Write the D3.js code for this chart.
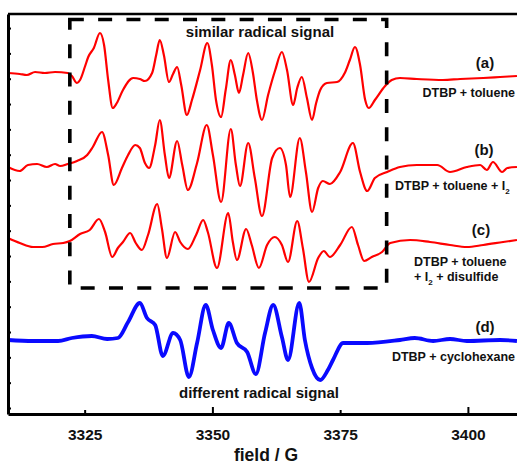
<!DOCTYPE html>
<html>
<head>
<meta charset="utf-8">
<script src="https://cdn.jsdelivr.net/npm/d3@7"></script>
<style>
body { margin: 0; background: #fff; }
text { font-family: "Liberation Sans", Arial, sans-serif; font-weight: bold; fill: #111; }
</style>
</head>
<body>
<svg width="517" height="466"></svg>
<script>
// spectrum (a) DTBP + toluene
var fieldA = [3310.0,3312.3,3313.7,3315.3,3317.2,3319.2,3321.7,3322.5,3323.5,3324.1,3325.1,3325.7,3326.8,3328.0,3328.8,3329.6,3330.5,3331.3,3332.5,3334.5,3335.8,3336.8,3338.2,3339.0,3339.7,3340.5,3341.5,3342.3,3343.1,3343.9,3345.0,3346.0,3347.6,3349.0,3349.9,3350.7,3351.7,3352.6,3353.6,3354.4,3355.2,3356.0,3357.0,3357.9,3358.7,3359.7,3360.9,3362.3,3363.6,3364.6,3365.8,3366.6,3367.5,3368.5,3369.5,3370.3,3371.1,3372.4,3374.4,3375.9,3376.9,3377.9,3378.9,3379.9,3380.6,3381.8,3383.8,3385.1,3386.7,3390.0,3395.1,3398.5,3403.0,3406.3,3409.6]
var intA = [0,-1,-2,1,0,1,0,-3,-10,-7,7,16,25,40,28,-7,-35,-30,-17,-5,-6,-8,0,18,33,18,-9,-1,6,-12,-42,-27,3,30,8,-27,-44,-17,13,-2,-20,-2,20,1,-27,-47,-22,3,21,3,-32,-15,-4,-25,-47,-30,-17,-10,-9,0,13,26,8,-27,-35,-27,-13,-7,-5,-6,-7,-6,-5,-4,-3]

// spectrum (b) DTBP + toluene + I2
var fieldB = [3310.0,3312.3,3313.9,3315.7,3317.6,3319.2,3320.2,3321.7,3323.5,3325.5,3326.6,3328.4,3329.6,3330.7,3332.3,3333.5,3334.9,3335.8,3336.8,3337.6,3338.8,3339.7,3340.7,3341.5,3343.1,3344.1,3345.2,3347.0,3348.9,3350.1,3351.7,3353.6,3354.6,3355.4,3357.0,3358.3,3359.7,3361.7,3363.2,3364.4,3365.2,3367.1,3368.3,3369.5,3370.7,3371.6,3373.0,3375.0,3377.5,3378.9,3380.3,3381.8,3384.2,3386.7,3390.0,3394.0,3396.5,3399.8,3402.4,3403.7,3404.9,3406.7,3407.7,3409.6]
var intB = [0,-4,2,3,0,3,1,3,6,12,20,35,12,-18,-1,12,22,19,4,-1,22,47,12,-11,26,2,-23,4,42,12,-35,38,2,-19,24,-11,-49,9,19,2,-30,29,-5,-45,-21,-14,-17,-5,24,-5,-24,-11,-5,0,2,2,-5,0,2,-3,5,-5,-1,0]

// spectrum (c) DTBP + toluene + I2 + disulfide
var fieldC = [3310.0,3312.3,3314.9,3316.7,3318.8,3320.8,3322.1,3324.1,3326.0,3327.8,3329.0,3330.4,3331.5,3332.5,3333.9,3335.0,3336.2,3337.4,3339.2,3340.1,3341.1,3342.7,3343.7,3345.2,3346.8,3348.2,3349.1,3350.9,3353.1,3354.0,3354.8,3356.6,3357.7,3359.1,3360.7,3362.2,3363.6,3364.8,3366.6,3367.7,3368.9,3370.7,3371.8,3373.0,3375.0,3377.3,3378.5,3379.7,3381.2,3383.2,3384.8,3388.7,3392.6,3396.5,3399.8,3403.0,3406.9,3409.6]
var intC = [2,-3,-7,-7,-4,-3,-1,6,10,21,8,-17,-8,-2,7,-3,-10,5,36,12,-18,8,-2,-9,5,20,8,-28,27,-2,-20,11,-5,-28,-5,3,-5,-22,19,-8,-42,-18,-11,-17,-5,13,-5,-21,-17,-12,-3,0,-2,-5,-7,-5,-2,0]

// spectrum (d) DTBP + cyclohexane
var fieldD = [3310.0,3314.9,3319.8,3322.5,3326.4,3329.4,3331.5,3333.5,3335.8,3337.2,3338.8,3340.3,3342.3,3343.7,3345.4,3347.0,3348.7,3350.1,3351.7,3353.2,3354.8,3356.8,3358.5,3360.3,3361.9,3363.6,3364.8,3367.0,3368.1,3369.5,3371.1,3372.6,3373.6,3375.6,3380.3,3386.7,3389.6,3393.2,3396.5,3399.8,3406.3,3409.6]
var intD = [0,-1,-1,2,4,1,2,18,37,22,15,-16,7,0,-37,-3,35,10,-8,17,-3,-12,-34,7,35,3,-20,37,0,-28,-40,-30,-20,-3,-3,0,2,-1,1,-1,0,-1]

var offsets = [341, 247, 174, 74]
var xTicks = [3325, 3350, 3375, 3400]
var xTickLabels = ["3325", "3350", "3375", "3400"]
var yTicks = d3.range(16).map(function(i) { return 6 + i * 25.33 })
var boxField = [3322.1, 3384.1]
var boxLevel = [126, 394.5]

var svg = d3.select("svg")
var x = d3.scaleLinear().domain([3310, 3410]).range([8, 519])
var y = d3.scaleLinear().domain([0, 400]).range([414, 14])

var spectra = [
  {field: fieldA, value: intA, off: offsets[0], color: "#ff0000", w: 2.2},
  {field: fieldB, value: intB, off: offsets[1], color: "#ff0000", w: 2.2},
  {field: fieldC, value: intC, off: offsets[2], color: "#ff0000", w: 2.2},
  {field: fieldD, value: intD, off: offsets[3], color: "#0a0aff", w: 3.8}
]

spectra.forEach(function(s) {
  var line = d3.line()
    .x(function(d, i) { return x(s.field[i]) })
    .y(function(d) { return y(d + s.off) })
    .curve(d3.curveMonotoneX)
  svg.append("path")
    .attr("d", line(s.value))
    .attr("fill", "none")
    .attr("stroke", s.color)
    .attr("stroke-width", s.w)
    .attr("stroke-linejoin", "round")
})

// dashed box
svg.append("rect")
  .attr("x", x(boxField[0]))
  .attr("y", y(boxLevel[1]))
  .attr("width", x(boxField[1]) - x(boxField[0]))
  .attr("height", y(boxLevel[0]) - y(boxLevel[1]))
  .attr("fill", "none")
  .attr("stroke", "#000")
  .attr("stroke-width", 3.6)
  .attr("stroke-dasharray", "14,14.3")

// frame
svg.append("line")
  .attr("x1", x(3310)).attr("x2", x(3410))
  .attr("y1", y(400)).attr("y2", y(400))
  .attr("stroke", "#000").attr("stroke-width", 2.6)

var yAxis = svg.append("g")
  .attr("transform", "translate(" + x(3310) + ",0)")
  .call(d3.axisRight(y).tickValues(yTicks).tickSize(3).tickSizeOuter(0).tickFormat(""))
yAxis.select(".domain").attr("stroke-width", 3)
yAxis.selectAll(".tick line").attr("stroke-width", 2)

var xAxis = svg.append("g")
  .attr("transform", "translate(0," + y(0) + ")")
  .call(d3.axisBottom(x).tickValues(xTicks).tickSizeOuter(0)
    .tickFormat(function(d, i) { return xTickLabels[i] }))
xAxis.select(".domain").attr("stroke-width", 3)
xAxis.selectAll(".tick line")
  .attr("stroke-width", 2)
  .attr("y2", function(d) { return d % 50 == 0 ? -7 : -4 })
xAxis.selectAll(".tick text")
  .attr("y", 26).attr("dy", 0)
  .style("font-size", "15.5px")
  .style("font-family", "'Liberation Sans', Arial, sans-serif")
  .style("font-weight", "bold")
  .attr("fill", "#111")

svg.append("text").attr("x", 266).attr("y", 461)
  .attr("text-anchor", "middle").style("font-size", "17.5px").text("field / G")

// annotations
svg.append("text").attr("x", 260).attr("y", 36.5)
  .attr("text-anchor", "middle").style("font-size", "15px").text("similar radical signal")
svg.append("text").attr("x", 259).attr("y", 398)
  .attr("text-anchor", "middle").style("font-size", "15px").text("different radical signal")

var tags = [["(a)", 485, 67.5], ["(b)", 484, 155], ["(c)", 481, 235], ["(d)", 485, 332]]
tags.forEach(function(t) {
  svg.append("text").attr("x", t[1]).attr("y", t[2])
    .attr("text-anchor", "middle").style("font-size", "15px").text(t[0])
})

svg.append("text").attr("x", 515).attr("y", 96.5)
  .attr("text-anchor", "end").style("font-size", "12.5px").text("DTBP + toluene")

var tb = svg.append("text").attr("x", 395).attr("y", 190).style("font-size", "12.5px")
tb.append("tspan").text("DTBP + toluene + I")
tb.append("tspan").attr("dy", 4).style("font-size", "8px").text("2")

svg.append("text").attr("x", 414).attr("y", 266).style("font-size", "12.5px").text("DTBP + toluene")
var tc = svg.append("text").attr("x", 414).attr("y", 281).style("font-size", "12.5px")
tc.append("tspan").text("+ I")
tc.append("tspan").attr("dy", 4).style("font-size", "8px").text("2")
tc.append("tspan").attr("dy", -4).text(" + disulfide")

svg.append("text").attr("x", 515).attr("y", 361)
  .attr("text-anchor", "end").style("font-size", "12.5px").text("DTBP + cyclohexane")
</script>
</body>
</html>
